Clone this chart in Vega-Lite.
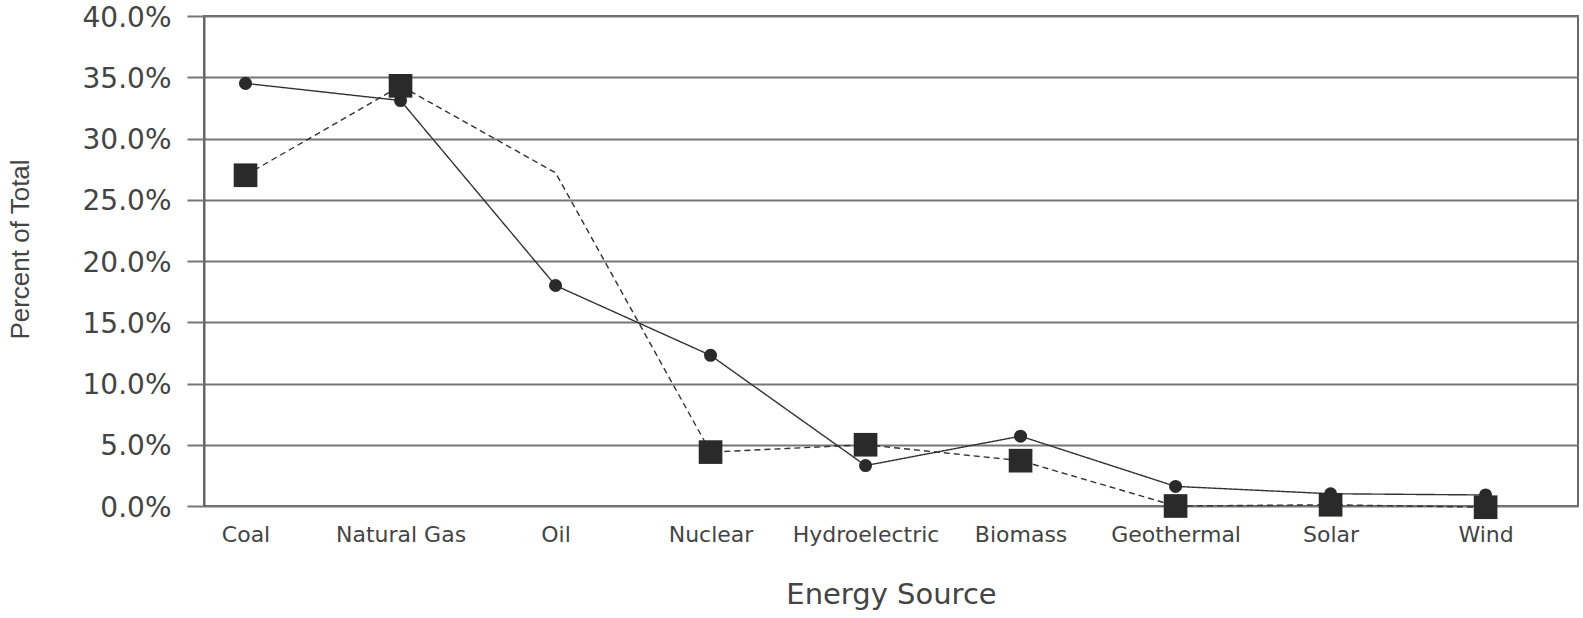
{
  "$schema": "https://vega.github.io/schema/vega-lite/v6.json",
  "autosize": {"type": "none"},
  "width": 1374,
  "height": 490,
  "padding": {"left": 204, "top": 16, "right": 5, "bottom": 112},
  "background": "white",
  "config": {
    "view": {"stroke": "#666666", "strokeWidth": 2},
    "font": "DejaVu Sans"
  },
  "data": {
    "values": [
      {"source": "Coal", "series": "A", "value": 0.345},
      {"source": "Natural Gas", "series": "A", "value": 0.331},
      {"source": "Oil", "series": "A", "value": 0.180},
      {"source": "Nuclear", "series": "A", "value": 0.123},
      {"source": "Hydroelectric", "series": "A", "value": 0.033},
      {"source": "Biomass", "series": "A", "value": 0.057},
      {"source": "Geothermal", "series": "A", "value": 0.016},
      {"source": "Solar", "series": "A", "value": 0.010},
      {"source": "Wind", "series": "A", "value": 0.009},
      {"source": "Coal", "series": "B", "value": 0.270},
      {"source": "Natural Gas", "series": "B", "value": 0.343},
      {"source": "Oil", "series": "B", "value": 0.272},
      {"source": "Nuclear", "series": "B", "value": 0.044},
      {"source": "Hydroelectric", "series": "B", "value": 0.050},
      {"source": "Biomass", "series": "B", "value": 0.037},
      {"source": "Geothermal", "series": "B", "value": 0.000},
      {"source": "Solar", "series": "B", "value": 0.001},
      {"source": "Wind", "series": "B", "value": -0.001}
    ]
  },
  "encoding": {
    "x": {
      "field": "source",
      "type": "nominal",
      "sort": null,
      "scale": {"type": "point", "padding": 0.432, "align": 0.31},
      "axis": {
        "title": "Energy Source",
        "domain": false,
        "ticks": false,
        "grid": false,
        "labelAngle": 0,
        "labelFont": "DejaVu Sans",
        "labelFontSize": 22,
        "labelColor": "#444444",
        "labelPadding": 18,
        "titleFont": "DejaVu Sans",
        "titleFontSize": 29,
        "titleFontWeight": "normal",
        "titleColor": "#444444",
        "titleY": 88,
        "titleBaseline": "middle"
      }
    },
    "y": {
      "field": "value",
      "type": "quantitative",
      "scale": {"domain": [0, 0.4], "nice": false, "zero": false},
      "axis": {
        "title": "Percent of Total",
        "format": ".1%",
        "values": [0, 0.05, 0.1, 0.15, 0.2, 0.25, 0.3, 0.35, 0.4],
        "domain": true,
        "domainColor": "#666666",
        "domainWidth": 2,
        "ticks": true,
        "tickSize": 17,
        "tickColor": "#777777",
        "tickWidth": 2,
        "grid": true,
        "gridColor": "#777777",
        "gridWidth": 1.8,
        "labelFont": "DejaVu Sans",
        "labelFontSize": 28,
        "labelColor": "#444444",
        "labelPadding": 16,
        "labelOffset": 2,
        "titleFont": "Liberation Sans",
        "titleFontSize": 26,
        "titleFontWeight": "normal",
        "titleColor": "#444444",
        "titleAngle": -90,
        "titleX": -184,
        "titleY": 233,
        "titleAlign": "center",
        "titleBaseline": "middle"
      }
    }
  },
  "layer": [
    {
      "mark": {"type": "line", "color": "#333333", "strokeWidth": 1.4},
      "encoding": {
        "strokeDash": {
          "field": "series",
          "type": "nominal",
          "scale": {"domain": ["A", "B"], "range": [[1, 0], [6, 4]]},
          "legend": null
        }
      }
    },
    {
      "transform": [{"filter": "!(datum.series === 'B' && datum.source === 'Oil')"}],
      "mark": {"type": "point", "filled": true, "opacity": 1, "color": "#2a2a2a"},
      "encoding": {
        "shape": {
          "field": "series",
          "type": "nominal",
          "scale": {"domain": ["A", "B"], "range": ["circle", "square"]},
          "legend": null
        },
        "size": {
          "field": "series",
          "type": "nominal",
          "scale": {"domain": ["A", "B"], "range": [170, 560]},
          "legend": null
        }
      }
    }
  ]
}
